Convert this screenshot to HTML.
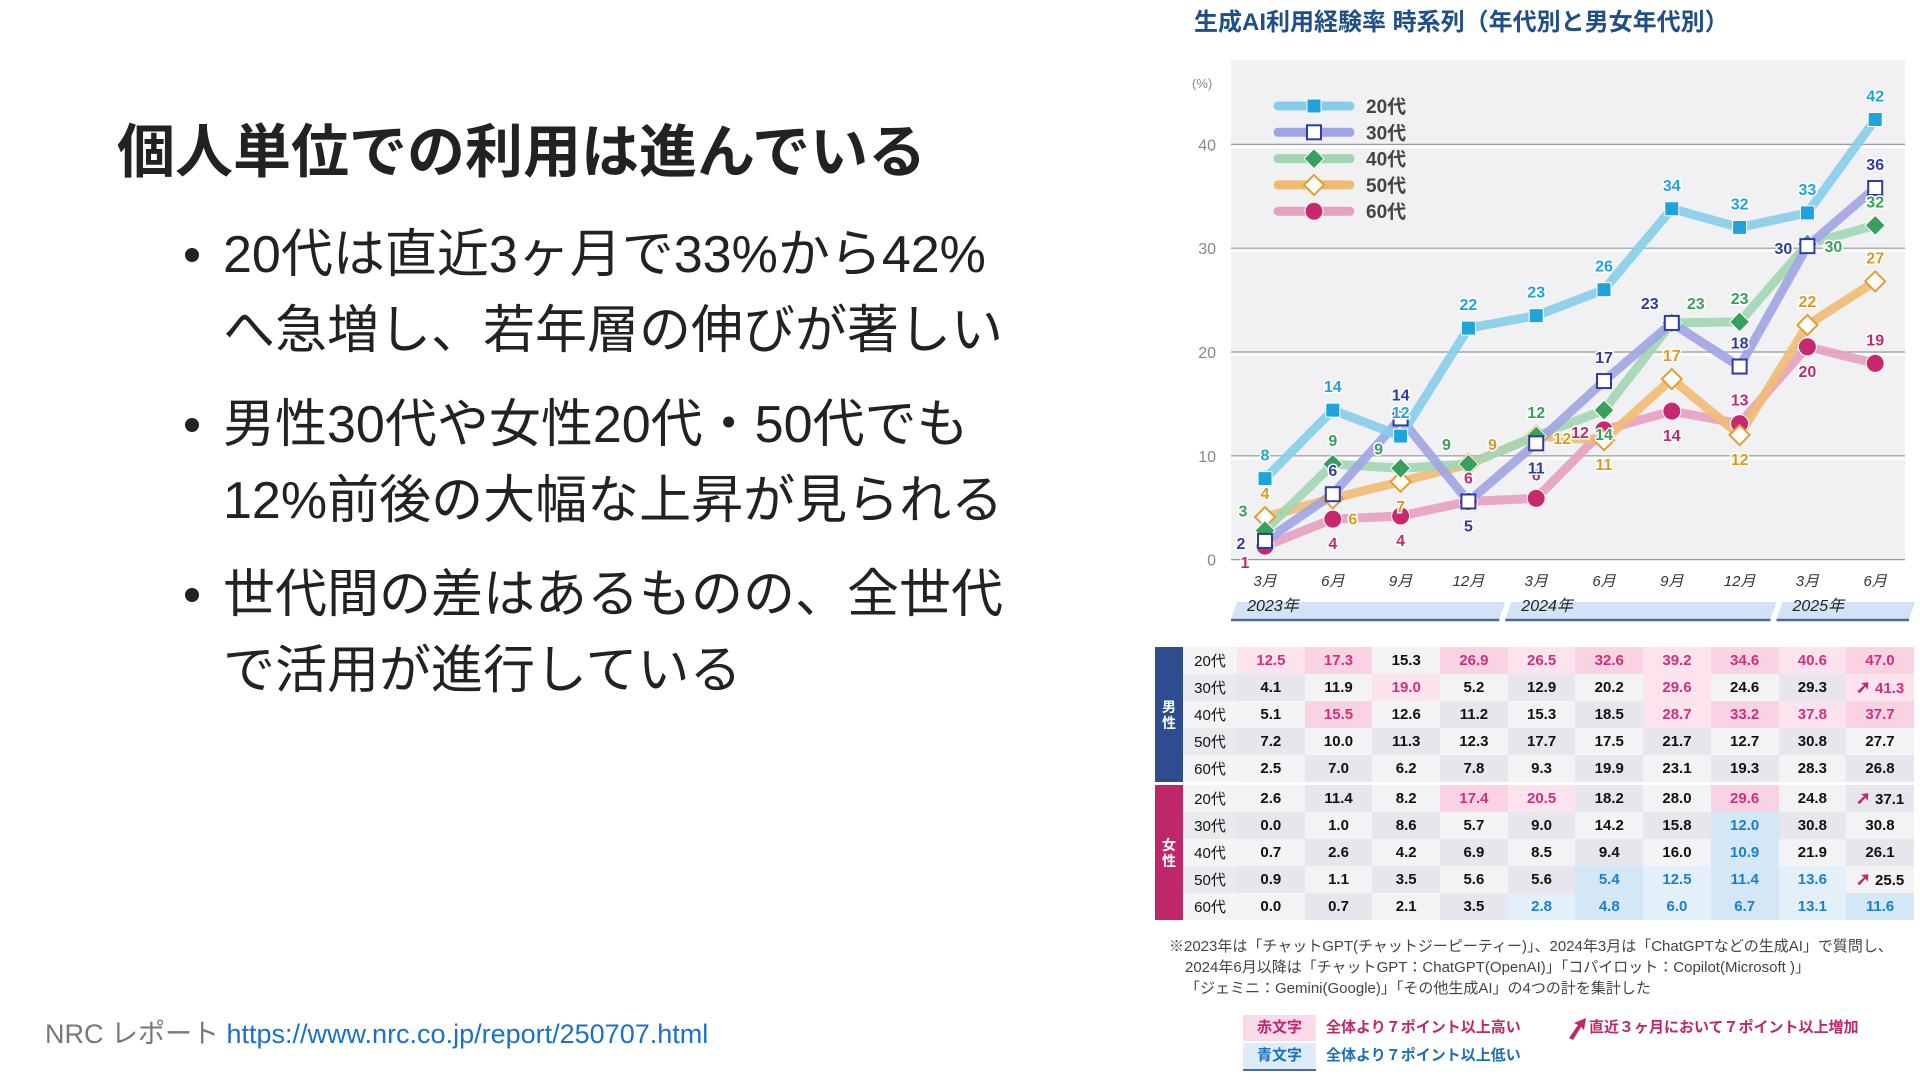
<!DOCTYPE html>
<html lang="ja"><head><meta charset="utf-8">
<style>
html,body{margin:0;padding:0;width:1920px;height:1080px;background:#fff;overflow:hidden;font-family:"Liberation Sans","Noto Sans CJK JP",sans-serif;}
.abs{position:absolute;}
#heading{left:117px;top:118px;font-size:58px;font-weight:bold;color:#222;margin:0;line-height:70px;white-space:nowrap;}
.bl{left:185px;font-size:52px;color:#222;white-space:nowrap;line-height:76px;}
.bl .dot{position:absolute;left:0;top:31px;width:14px;height:14px;border-radius:50%;background:#222;}
.bl .tx{position:absolute;left:38px;top:0;}
#footer{left:45px;top:1012px;font-size:27px;color:#777;white-space:nowrap;}
#footer a{color:#1a6fd0;text-decoration:none;}
#tbl{left:1155px;top:647px;border-collapse:collapse;font-size:15px;font-weight:bold;color:#111;}
#tbl td{height:27px;padding:0;text-align:center;}
.sx{width:28px;color:#fff;font-size:14px;line-height:16px;}
.ag{width:54px;text-align:center;font-weight:normal;}
.dc{width:67.7px;}
.fn{left:1169px;font-size:15px;color:#444;white-space:nowrap;}
</style></head><body>
<h1 id="heading" class="abs">個人単位での利用は進んでいる</h1>
<div class="abs bl" style="top:217px;height:160px;width:950px"><span class="dot"></span><div class="tx">20代は直近3ヶ月で33%から42%<br>へ急増し、若年層の伸びが著しい</div></div>
<div class="abs bl" style="top:387px;height:160px;width:950px"><span class="dot"></span><div class="tx">男性30代や女性20代・50代でも<br>12%前後の大幅な上昇が見られる</div></div>
<div class="abs bl" style="top:557px;height:160px;width:950px"><span class="dot"></span><div class="tx">世代間の差はあるものの、全世代<br>で活用が進行している</div></div>
<div id="footer" class="abs">NRC レポート <a href="#">https://www.nrc.co.jp/report/250707.html</a></div>

<svg id="chart" class="abs" style="left:0;top:0" width="1920" height="1080"></svg>
<table id="tbl" class="abs"></table>

<div class="abs fn" style="top:935px">※2023年は「チャットGPT(チャットジーピーティー)」、2024年3月は「ChatGPTなどの生成AI」で質問し、</div>
<div class="abs fn" style="top:956px;left:1185px">2024年6月以降は「チャットGPT：ChatGPT(OpenAI)」「コパイロット：Copilot(Microsoft )」</div>
<div class="abs fn" style="top:977px;left:1185px">「ジェミニ：Gemini(Google)」「その他生成AI」の4つの計を集計した</div>

<div class="abs" style="left:1243px;top:1015px;width:73px;height:26px;background:#fbdbe9;color:#c0266a;font-size:15px;line-height:26px;text-align:center;font-weight:bold">赤文字</div>
<div class="abs" style="left:1326px;top:1015px;color:#c0266a;font-size:15px;line-height:26px;font-weight:bold">全体より７ポイント以上高い</div>
<div class="abs" style="left:1243px;top:1043px;width:73px;height:26px;background:#dcecf8;color:#1a6fb8;font-size:15px;line-height:26px;text-align:center;font-weight:bold;border-bottom:2px solid #4a6aa0">青文字</div>
<div class="abs" style="left:1326px;top:1043px;color:#1a6fb8;font-size:15px;line-height:26px;font-weight:bold">全体より７ポイント以上低い</div>
<svg class="abs" style="left:1566px;top:1016px" width="22" height="24"><path d="M3 22 L12 9 L8 7 L20 2 L18 14 L15 11 L7 24 Z" fill="#c0266a"/></svg>
<div class="abs" style="left:1589px;top:1015px;color:#c0266a;font-size:15px;line-height:26px;font-weight:bold">直近３ヶ月において７ポイント以上増加</div>

<script>
const months = ['3月','6月','9月','12月','3月','6月','9月','12月','3月','6月'];
const seriesNames = ['20代','30代','40代','50代','60代'];
const s20 = [7.8,14.4,11.9,22.3,23.5,26.0,33.8,32.0,33.4,42.4];
const s30 = [1.8,6.3,13.6,5.6,11.2,17.2,22.8,18.6,30.2,35.8];
const s40 = [2.8,9.2,8.8,9.2,11.9,14.4,22.8,22.9,30.4,32.2];
const s50 = [4.1,5.9,7.5,9.2,11.9,11.5,17.4,12.0,22.6,26.8];
const s60 = [1.3,3.9,4.2,5.6,5.9,12.5,14.3,13.1,20.5,18.9];
const lab20 = ['8','14','12','22','23','26','34','32','33','42'];
const lab30 = ['2','6','14','5','11','17','23','18','30','36'];
const lab40 = ['3','9','9','9','12','14','23','23','30','32'];
const lab50 = ['4','6','7','9','12','11','17','12','22','27'];
const lab60 = ['1','4','4','6','6','12','14','13','20','19'];
const yTicks = [0,10,20,30,40];
const years = ['2023年','2024年','2025年'];

const svg = document.getElementById('chart');
const NS = 'http://www.w3.org/2000/svg';
function X(i){ return 1265 + i*67.8; }
function Y(v){ return 559.6 - v*10.38; }
function mk(tag, attrs, parent){ const e=document.createElementNS(NS,tag); for(const k in attrs) e.setAttribute(k,attrs[k]); (parent||svg).appendChild(e); return e; }
function txt(x,y,s,attrs){ const e=mk('text',Object.assign({x:x,y:y},attrs)); e.textContent=s; return e; }

const title = txt(1194,30,'生成AI利用経験率 時系列（年代別と男女年代別）',{'font-size':24,'font-weight':'bold',fill:'#1f4f86'});



const bg = mk('rect',{x:1231,y:60,width:674,height:500,fill:'#f1f1f4'});


yTicks.forEach(t=>{
  const g = mk('line',{x1:1231,x2:1905,y1:Y(t),y2:Y(t),stroke:'#9a9a9a','stroke-width':1.2});
  
  
  mk('line',{x1:1231,x2:1905,y1:Y(t)+2.5,y2:Y(t)+2.5,stroke:'#ffffff','stroke-width':2.5});
  const l = txt(1216,Y(t)+6,String(t),{'font-size':16,fill:'#888','text-anchor':'end'});
  
  
});
const unit = txt(1192,88,'(%)',{'font-size':13,fill:'#888'});



months.forEach((m,i)=>{
  const t = txt(X(i),586,m,{'font-size':15,fill:'#333','text-anchor':'middle','font-style':'italic'});
  
  
});
const yearSeg = [[-0.5,3.5],[3.5,7.5],[7.5,9.5]];
years.forEach((y,k)=>{
  const a = X(yearSeg[k][0])+(k?3:0), b = X(yearSeg[k][1])-(k<2?3:0);
  const p = mk('path',{d:`M${a+6} 602 L${b+6} 602 L${b} 619 L${a} 619 Z`,fill:'#d3e2f6'});
  
  
  mk('line',{x1:a,x2:b,y1:620,y2:620,stroke:'#4a6aa0','stroke-width':2.5});
  const t = txt(a+16,611,y,{'font-size':16,fill:'#222','font-style':'italic'});
  
  
});

const data = [s20,s30,s40,s50,s60];
const labs = [lab20,lab30,lab40,lab50,lab60];
const lineCol = ['#86cde9','#9ea5e2','#a2d6b3','#efbb72','#e6a0c0'];
const markCol = ['#1ea3dc','#2f3aa6','#37a05c','#e0a030','#c8286e'];
const labCol = ['#1ea3dc','#2f3aa6','#37a05c','#d99a20','#c02a6a'];
const labPos = [
  ['a','a','a','a','a','a','a','a','a','a'],
  ['l','a','a','b','b','a','al','a','l','a'],
  ['al','a','al','al','a','b','ar','a','r','a'],
  ['a','br','b','ar','r','b','a','b','a','a'],
  ['bl','b','b','a','a','l','b','a','b','a']
];
const off = {a:[0,-18],b:[0,30],l:[-24,8],r:[26,8],al:[-22,-14],ar:[24,-14],br:[20,26],bl:[-20,22]};

function drawMarker(k,x,y){
  let e;
  if(k===0) e = mk('rect',{x:x-7,y:y-7,width:14,height:14,fill:markCol[0],stroke:'#fff','stroke-width':1});
  else if(k===1) e = mk('rect',{x:x-7,y:y-7,width:14,height:14,fill:'#fff',stroke:markCol[1],'stroke-width':2});
  else if(k===2) e = mk('path',{d:`M${x} ${y-10} L${x+10} ${y} L${x} ${y+10} L${x-10} ${y} Z`,fill:markCol[2],stroke:'#fff','stroke-width':1});
  else if(k===3) e = mk('path',{d:`M${x} ${y-10} L${x+10} ${y} L${x} ${y+10} L${x-10} ${y} Z`,fill:'#fff',stroke:markCol[3],'stroke-width':2});
  else e = mk('circle',{cx:x,cy:y,r:9,fill:markCol[4],stroke:'#fff','stroke-width':1});
  
  return e;
}

// legend
seriesNames.forEach((n,k)=>{
  const ly = 106 + k*26.3;
  mk('line',{x1:1278,x2:1350,y1:ly,y2:ly,stroke:lineCol[k],'stroke-width':9,'stroke-linecap':'round'});
  const lm = drawMarker(k,1314,ly);
  
  const t = txt(1366,ly+7,n,{'font-size':19,fill:'#444','font-weight':'bold'});
  
  
});

const order = [4,3,2,1,0];
order.forEach(k=>{
  const d = data[k].map((v,i)=>(i?'L':'M')+X(i)+' '+Y(v)).join(' ');
  const p = mk('path',{d:d,fill:'none',stroke:lineCol[k],'stroke-width':9,'stroke-linejoin':'round','stroke-opacity':0.9});
  
  
});
order.forEach(k=>{
  data[k].forEach((v,i)=>{
    const m = drawMarker(k,X(i),Y(v));
    
  });
});
order.forEach(k=>{
  data[k].forEach((v,i)=>{
    const o = off[labPos[k][i]];
    const t = txt(X(i)+o[0],Y(v)+o[1],labs[k][i],{'font-size':16,fill:labCol[k],'text-anchor':'middle','font-weight':'bold',stroke:'#fff','stroke-width':3,'paint-order':'stroke'});
    
    
  });
});

// table
const ages = ['20代','30代','40代','50代','60代'];
const male20 = ['12.5','17.3','15.3','26.9','26.5','32.6','39.2','34.6','40.6','47.0'];
const male30 = ['4.1','11.9','19.0','5.2','12.9','20.2','29.6','24.6','29.3','41.3'];
const male40 = ['5.1','15.5','12.6','11.2','15.3','18.5','28.7','33.2','37.8','37.7'];
const male50 = ['7.2','10.0','11.3','12.3','17.7','17.5','21.7','12.7','30.8','27.7'];
const male60 = ['2.5','7.0','6.2','7.8','9.3','19.9','23.1','19.3','28.3','26.8'];
const fem20 = ['2.6','11.4','8.2','17.4','20.5','18.2','28.0','29.6','24.8','37.1'];
const fem30 = ['0.0','1.0','8.6','5.7','9.0','14.2','15.8','12.0','30.8','30.8'];
const fem40 = ['0.7','2.6','4.2','6.9','8.5','9.4','16.0','10.9','21.9','26.1'];
const fem50 = ['0.9','1.1','3.5','5.6','5.6','5.4','12.5','11.4','13.6','25.5'];
const fem60 = ['0.0','0.7','2.1','3.5','2.8','4.8','6.0','6.7','13.1','11.6'];
const flagM = ['rr.rrrrrrr','..r...r..u','.r....rrrr','..........','..........'];
const flagF = ['...rr..r.u','.......b..','.......b..','.....bbbbu','....bbbbbb'];
const maleRows=[male20,male30,male40,male50,male60], femRows=[fem20,fem30,fem40,fem50,fem60];
const tbl = document.getElementById('tbl');
function addGroup(rows,flags,sex,col){
  rows.forEach((vals,r)=>{
    const tr = document.createElement('tr');
    
    
    if(r===0){
      const s=document.createElement('td'); s.rowSpan=5; s.className='sx'; s.style.background=col;
      s.innerHTML=sex[0]+'<br>'+sex[1];
      
      
      tr.appendChild(s);
    }
    const a=document.createElement('td'); a.className='ag'; a.textContent=ages[r];
    a.style.background = r%2? '#e9e9ee':'#f4f4f7';
    
    
    tr.appendChild(a);
    vals.forEach((v,c)=>{
      const d=document.createElement('td'); d.className='dc';
      const f = flags[r][c];
      let bgc = ((c+r)%2)? '#e6e6ec':'#f3f3f6';
      if(f==='r'){ bgc = (c%2)?'#f9d3e4':'#fce3ee'; d.style.color='#d0307a'; }
      if(f==='b'){ bgc = (c%2)?'#d3e7f7':'#e3f0fa'; d.style.color='#1a7fcc'; }
      d.style.background=bgc;
      if(f==='u'){
        d.innerHTML='<span style="color:#c0266a;font-size:18px">➚</span> '+v;
        if(sex==='男性'){ d.style.color='#d0307a'; d.style.background='#fce3ee'; }
      } else d.textContent=v;
      
      
      tr.appendChild(d);
    });
    tbl.appendChild(tr);
  });
}
addGroup(maleRows,flagM,'男性','#2e4d8f');
const sp=document.createElement('tr'); sp.innerHTML='<td colspan="12" style="height:3px;background:#fff"></td>'; tbl.appendChild(sp);
addGroup(femRows,flagF,'女性','#c0266a');
</script>
</body></html>
